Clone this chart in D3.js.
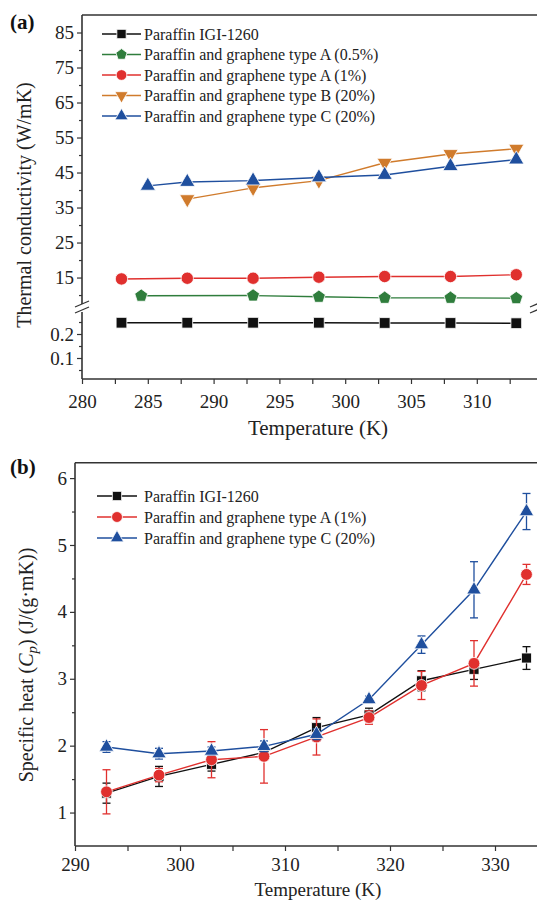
<!DOCTYPE html>
<html>
<head>
<meta charset="utf-8">
<script src="https://cdn.jsdelivr.net/npm/d3@7"></script>
<style>
  body { margin: 0; background: #fff; }
  svg { display: block; font-family: 'Liberation Serif', 'Times New Roman', serif; }
  .tick text { font-size: 19px; fill: #222; font-family: 'Liberation Serif', serif; }
  .tick line { stroke: #333; stroke-width: 1.2; }
</style>
</head>
<body>
<svg width="537" height="901"></svg>
<script>
// ---- panel (a) data: thermal conductivity ----
const tempsA = [283, 288, 293, 298, 303, 308, 313];
const paraffinA = [0.247, 0.247, 0.247, 0.247, 0.246, 0.246, 0.245];
const tempsA05 = [284.5, 293, 298, 303, 308, 313];
const grapheneA05 = [9.8, 9.85, 9.5, 9.2, 9.2, 9.1];
const grapheneA1 = [14.6, 14.8, 14.8, 15.1, 15.3, 15.3, 15.8];
const tempsB20 = [288, 293, 298, 303, 308, 313];
const grapheneB20 = [37.4, 40.6, 42.7, 47.8, 50.3, 51.8];
const tempsC20 = [285, 288, 293, 298, 303, 308, 313];
const grapheneC20 = [41.2, 42.3, 42.7, 43.6, 44.3, 46.8, 48.7];

const xTicksA = [280, 285, 290, 295, 300, 305, 310];
const yTicksUpper = [15, 25, 35, 45, 55, 65, 75, 85];
const yTicksLower = [0.1, 0.2];

// ---- panel (b) data: specific heat ----
const tempsB = [293, 298, 303, 308, 313, 318, 323, 328, 333];
const paraffinB = [1.29, 1.54, 1.72, 1.90, 2.27, 2.46, 2.97, 3.14, 3.31];
const paraffinErr = [0.15, 0.15, 0.1, 0.1, 0.15, 0.1, 0.15, 0.15, 0.17];
const grapheneA1B = [1.31, 1.56, 1.79, 1.84, 2.13, 2.42, 2.90, 3.23, 4.56];
const grapheneA1Err = [0.33, 0.1, 0.27, 0.4, 0.27, 0.1, 0.21, 0.34, 0.15];
const grapheneC20B = [1.98, 1.88, 1.92, 1.99, 2.17, 2.69, 3.51, 4.33, 5.50];
const grapheneC20Err = [0.08, 0.08, 0.06, 0.08, 0.08, 0.05, 0.13, 0.42, 0.27];

const xTicksB = [290, 300, 310, 320, 330];
const yTicksB = [1, 2, 3, 4, 5, 6];

const colors = {
  black: '#111', green: '#2f7d3c', red: '#e0302e', orange: '#d07b2c', blue: '#1f4f9e'
};
const axisColor = '#333';

const svg = d3.select('svg');

// pentagon isn't in d3's symbol set
const pentagon = r => {
  const pts = d3.range(5).map(k => {
    const a = (-90 + 72 * k) * Math.PI / 180;
    return [r * Math.cos(a), r * Math.sin(a)];
  });
  return 'M' + pts.map(p => p.join(',')).join('L') + 'Z';
};

const markerPath = (shape, size) => {
  if (shape === 'pentagon') return pentagon(Math.sqrt(size) * 0.62);
  const type = { square: d3.symbolSquare, circle: d3.symbolCircle,
    triangle: d3.symbolTriangle, down: d3.symbolTriangle }[shape];
  return d3.symbol().type(type).size(size)();
};

const drawMarkers = (g, pts, shape, size, color) => {
  g.selectAll(null).data(pts).enter().append('path')
    .attr('d', markerPath(shape, size))
    .attr('transform', d => `translate(${d[0]},${d[1]})` + (shape === 'down' ? ' rotate(180)' : ''))
    .attr('fill', color)
    .attr('stroke', '#fff')
    .attr('stroke-width', 0.8);
};

const drawLine = (g, pts, color) => {
  g.append('path')
    .attr('d', d3.line()(pts))
    .attr('fill', 'none')
    .attr('stroke', color)
    .attr('stroke-width', 1.4);
};

const styleAxis = sel => {
  sel.select('.domain').remove();
  sel.selectAll('.tick line').attr('stroke', axisColor);
};

/* =================== panel (a) =================== */
const xA = d3.scaleLinear().domain([280, 315]).range([82, 542.6]);
const yUp = d3.scaleLinear().domain([7.3, 90]).range([304.5, 15]);
const yLow = d3.scaleLinear().domain([0.0125, 0.2917]).range([379, 312]);
const gA = svg.append('g');

// frame lines
gA.append('line').attr('x1', 82).attr('x2', 537).attr('y1', 15).attr('y2', 15)
  .attr('stroke', axisColor).attr('stroke-width', 1.6);
gA.append('line').attr('x1', 82).attr('x2', 537).attr('y1', 379).attr('y2', 379)
  .attr('stroke', axisColor).attr('stroke-width', 1.6);
gA.append('line').attr('x1', 82).attr('x2', 82).attr('y1', 15).attr('y2', 304)
  .attr('stroke', axisColor).attr('stroke-width', 1.6);
gA.append('line').attr('x1', 82).attr('x2', 82).attr('y1', 312).attr('y2', 379)
  .attr('stroke', axisColor).attr('stroke-width', 1.6);

// break marks on both sides
[82, 537].forEach(bx => {
  [0, 6].forEach(off => {
    gA.append('line')
      .attr('x1', bx - 7).attr('y1', 307 + off)
      .attr('x2', bx + 7).attr('y2', 301 + off)
      .attr('stroke', axisColor).attr('stroke-width', 1.2);
  });
});

// y axis upper
gA.append('g').attr('transform', 'translate(82,0)')
  .call(d3.axisLeft(yUp).tickValues(yTicksUpper).tickSize(5).tickPadding(3).tickFormat(d3.format('d')))
  .call(styleAxis);
gA.append('g').attr('transform', 'translate(82,0)')
  .call(d3.axisLeft(yUp).tickValues(d3.range(10, 90, 10)).tickSize(3).tickFormat(''))
  .call(styleAxis);
// y axis lower
gA.append('g').attr('transform', 'translate(82,0)')
  .call(d3.axisLeft(yLow).tickValues(yTicksLower).tickSize(5).tickPadding(3).tickFormat(d3.format('.1f')))
  .call(styleAxis);
gA.append('g').attr('transform', 'translate(82,0)')
  .call(d3.axisLeft(yLow).tickValues([0.05, 0.15, 0.25]).tickSize(3).tickFormat(''))
  .call(styleAxis);
// x axis
gA.append('g').attr('transform', 'translate(0,379)')
  .call(d3.axisBottom(xA).tickValues(xTicksA).tickSize(5).tickPadding(11).tickFormat(d3.format('d')))
  .call(styleAxis);
gA.append('g').attr('transform', 'translate(0,379)')
  .call(d3.axisBottom(xA).tickValues(d3.range(282.5, 315, 5)).tickSize(5).tickFormat(''))
  .call(styleAxis);

gA.append('text').attr('x', 318).attr('y', 435).attr('text-anchor', 'middle')
  .attr('font-size', 21).attr('fill', '#222').text('Temperature (K)');
gA.append('text').attr('transform', 'translate(31,205) rotate(-90)').attr('text-anchor', 'middle')
  .attr('font-size', 20).attr('fill', '#222').text('Thermal conductivity (W/mK)');
gA.append('text').attr('x', 10).attr('y', 29).attr('font-size', 21).attr('font-weight', 'bold')
  .attr('fill', '#111').text('(a)');

const seriesA = [
  { name: 'Paraffin IGI-1260', t: tempsA, v: paraffinA, y: yLow, shape: 'square', size: 115, color: colors.black },
  { name: 'Paraffin and graphene type A (0.5%)', t: tempsA05, v: grapheneA05, y: yUp, shape: 'pentagon', size: 120, color: colors.green },
  { name: 'Paraffin and graphene type A (1%)', t: tempsA, v: grapheneA1, y: yUp, shape: 'circle', size: 120, color: colors.red },
  { name: 'Paraffin and graphene type B (20%)', t: tempsB20, v: grapheneB20, y: yUp, shape: 'down', size: 100, color: colors.orange },
  { name: 'Paraffin and graphene type C (20%)', t: tempsC20, v: grapheneC20, y: yUp, shape: 'triangle', size: 100, color: colors.blue }
];

seriesA.forEach(s => {
  const pts = s.t.map((t, i) => [xA(t), s.y(s.v[i])]);
  drawLine(gA, pts, s.color);
  drawMarkers(gA, pts, s.shape, s.size, s.color);
});

// legend (a)
seriesA.forEach((s, i) => {
  const ly = 34 + i * 20.5;
  gA.append('line').attr('x1', 102).attr('x2', 141).attr('y1', ly).attr('y2', ly)
    .attr('stroke', s.color).attr('stroke-width', 1.4);
  drawMarkers(gA, [[121.5, ly]], s.shape, s.size * 0.75, s.color);
  gA.append('text').attr('x', 144).attr('y', ly + 5.5).attr('font-size', 16)
    .attr('fill', '#222').text(s.name);
});

/* =================== panel (b) =================== */
const xB = d3.scaleLinear().domain([290, 335]).range([75, 547.5]);
const yB = d3.scaleLinear().domain([0.5, 6.23]).range([846, 462.7]);
const gB = svg.append('g');

gB.append('line').attr('x1', 75).attr('x2', 537).attr('y1', 462.7).attr('y2', 462.7)
  .attr('stroke', axisColor).attr('stroke-width', 1.6);
gB.append('line').attr('x1', 75).attr('x2', 537).attr('y1', 846).attr('y2', 846)
  .attr('stroke', axisColor).attr('stroke-width', 1.6);
gB.append('line').attr('x1', 75).attr('x2', 75).attr('y1', 462.7).attr('y2', 846)
  .attr('stroke', axisColor).attr('stroke-width', 1.6);

gB.append('g').attr('transform', 'translate(75,0)')
  .call(d3.axisLeft(yB).tickValues(yTicksB).tickSize(5).tickPadding(3).tickFormat(d3.format('d')))
  .call(styleAxis);
gB.append('g').attr('transform', 'translate(75,0)')
  .call(d3.axisLeft(yB).tickValues(d3.range(1.5, 6.2, 1)).tickSize(3).tickFormat(''))
  .call(styleAxis);
gB.append('g').attr('transform', 'translate(0,846)')
  .call(d3.axisBottom(xB).tickValues(xTicksB).tickSize(5).tickPadding(7).tickFormat(d3.format('d')))
  .call(styleAxis);
gB.append('g').attr('transform', 'translate(0,846)')
  .call(d3.axisBottom(xB).tickValues(d3.range(295, 336, 10)).tickSize(5).tickFormat(''))
  .call(styleAxis);

gB.append('text').attr('x', 318).attr('y', 896).attr('text-anchor', 'middle')
  .attr('font-size', 19).attr('fill', '#222').text('Temperature (K)');
const yLabB = gB.append('text').attr('transform', 'translate(33,665) rotate(-90)')
  .attr('text-anchor', 'middle').attr('font-size', 20).attr('fill', '#222');
yLabB.append('tspan').text('Specific heat (');
yLabB.append('tspan').attr('font-style', 'italic').text('C');
yLabB.append('tspan').attr('font-style', 'italic').attr('font-size', 15).attr('dy', 4).text('p');
yLabB.append('tspan').attr('dy', -4).text(') (J/(g·mK))');
gB.append('text').attr('x', 10).attr('y', 474).attr('font-size', 21).attr('font-weight', 'bold')
  .attr('fill', '#111').text('(b)');

const seriesB = [
  { name: 'Paraffin IGI-1260', v: paraffinB, e: paraffinErr, shape: 'square', size: 100, color: colors.black },
  { name: 'Paraffin and graphene type A (1%)', v: grapheneA1B, e: grapheneA1Err, shape: 'circle', size: 110, color: colors.red },
  { name: 'Paraffin and graphene type C (20%)', v: grapheneC20B, e: grapheneC20Err, shape: 'triangle', size: 90, color: colors.blue }
];

seriesB.forEach(s => {
  const pts = tempsB.map((t, i) => [xB(t), yB(s.v[i])]);
  drawLine(gB, pts, s.color);
  // error bars
  const eb = gB.append('g').attr('stroke', s.color).attr('stroke-width', 1.3);
  tempsB.forEach((t, i) => {
    const x = xB(t), y0 = yB(s.v[i] - s.e[i]), y1 = yB(s.v[i] + s.e[i]);
    eb.append('line').attr('x1', x).attr('x2', x).attr('y1', y0).attr('y2', y1);
    eb.append('line').attr('x1', x - 4).attr('x2', x + 4).attr('y1', y0).attr('y2', y0);
    eb.append('line').attr('x1', x - 4).attr('x2', x + 4).attr('y1', y1).attr('y2', y1);
  });
  drawMarkers(gB, pts, s.shape, s.size, s.color);
});

// legend (b)
seriesB.forEach((s, i) => {
  const ly = 496 + i * 21;
  gB.append('line').attr('x1', 97).attr('x2', 137).attr('y1', ly).attr('y2', ly)
    .attr('stroke', s.color).attr('stroke-width', 1.4);
  drawMarkers(gB, [[117, ly]], s.shape, s.size * 0.85, s.color);
  gB.append('text').attr('x', 144).attr('y', ly + 5.5).attr('font-size', 16)
    .attr('fill', '#222').text(s.name);
});
</script>
</body>
</html>
